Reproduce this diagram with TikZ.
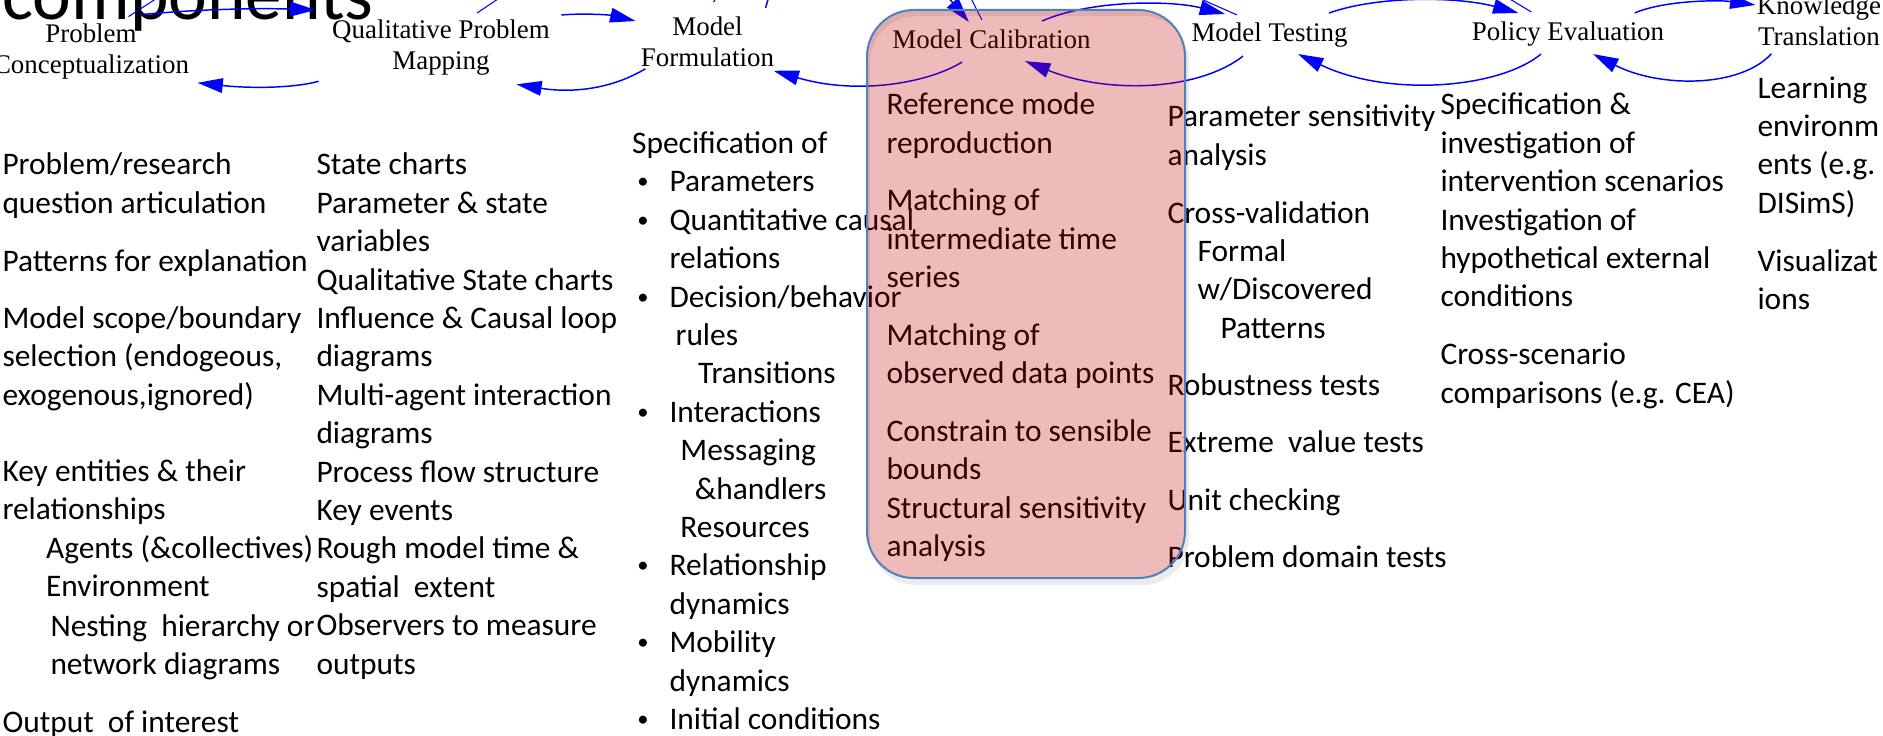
\documentclass[tikz,border=0pt]{standalone}
\usepackage{fontspec}
\setmainfont{Carlito}
\newfontfamily\stageserif{Liberation Serif}
\usetikzlibrary{arrows.meta,calc}

\newcommand{\bodyfont}{\fontsize{23.55pt}{28.8pt}\selectfont}
\newcommand{\stagefont}{\stageserif\fontsize{20.2pt}{23.6pt}\selectfont}
\newcommand{\bul}{\hspace*{3.8pt}\makebox[24.2pt][l]{\raisebox{2.3pt}{\scalebox{0.72}{\textbullet}}}}

\tikzset{every picture/.style={line width=0.75pt}}
\tikzset{
  bodytext/.style={anchor=north west, inner sep=0.75pt, align=left, font=\bodyfont},
  stagelabel/.style={anchor=north, inner sep=0.75pt, align=center, font=\stagefont},
  loopflow/.style={color={rgb, 255:red, 0; green, 0; blue, 255}, draw opacity=1, line width=1.1pt, -{Triangle[length=19pt,width=11pt]}},
  hubline/.style={color={rgb, 255:red, 0; green, 0; blue, 255}, line width=0.8pt},
}

\begin{document}
\begin{tikzpicture}[x=0.75pt,y=0.75pt,yscale=-1,xscale=1]
\useasboundingbox (0,0) rectangle (1883,735);
\clip (0,0) rectangle (1883,735);

%Shadow of the calibration box (only the part outside it)
\fill [color={rgb, 255:red, 0; green, 0; blue, 0}, opacity=0.08, rounded corners=35pt, even odd rule] (870,16) rectangle (1189,585) (867,10) rectangle (1185,578);

% Title Node
\node (title) [anchor=base west, inner sep=0pt, font=\fontsize{55pt}{60pt}\selectfont] at (2,20) {components};

% Stage Nodes
\node (concept) [stagelabel] at (91,18.6) {\strut Problem\\Conceptualization};
\node (mapping) [stagelabel] at (441,15) {\strut Qualitative Problem\\Mapping};
\node (formul) [stagelabel] at (707.5,12) {\strut Model\\Formulation};
\node (calib) [stagelabel] at (991.5,25) {\strut Model Calibration};
\node (testing) [stagelabel] at (1269.5,18) {\strut Model Testing};
\node (policy) [stagelabel] at (1568,17) {\strut Policy Evaluation};
\node (knowledge) [stagelabel] at (1819,-9) {\strut Knowledge\\Translation};

% Text Node
\node (pc1) [bodytext] at (1,146.6) {\strut Problem/research\\question articulation};
% Text Node
\node (pc2) [bodytext] at (1,242.7) {\strut Patterns for explanation};
% Text Node
\node (pc3) [bodytext] at (1,300.1) {\strut Model scope/boundary\\selection (endogeous,\\exogenous,ignored)};
% Text Node
\node (pc4) [bodytext] at (1,452.9) {\strut Key entities \& their\\relationships};
% Text Node
\node (pc5) [bodytext] at (44.6,529.7) {\strut Agents (\&collectives)\\Environment};
% Text Node
\node (pc6) [bodytext] at (49,607.8) {\strut Nesting\ \ hierarchy or\\network diagrams};
% Text Node
\node (pc7) [bodytext] at (1,703.8) {\strut Output\ \ of interest};

% Text Node
\node (qm) [bodytext] at (315,146.6) {\strut State charts\\Parameter \& state\\variables\\Qualitative State charts\\Influence \& Causal loop\\diagrams\\Multi-agent interaction\\diagrams\\Process flow structure\\Key events\\Rough model time \&\\spatial\ \ extent\\Observers to measure\\outputs};

% Text Node
\node (mf) [bodytext] at (630.7,125.1) {\strut Specification of\\\bul Parameters\\\bul Quantitative causal\\\hspace*{28pt}relations\\\bul Decision/behavior\\\hspace*{32.5pt}rules\\\hspace*{49.5pt}Transitions\\\bul Interactions\\\hspace*{36.2pt}Messaging\\\hspace*{47pt}\&handlers\\\hspace*{36.2pt}Resources\\\bul Relationship\\\hspace*{28pt}dynamics\\\bul Mobility\\\hspace*{28pt}dynamics\\\bul Initial conditions};

% Text Node
\node (mc1) [bodytext] at (885,86.6) {\strut Reference mode\\reproduction};
% Text Node
\node (mc2) [bodytext] at (885,182.6) {\strut Matching of\\intermediate time\\series};
% Text Node
\node (mc3) [bodytext] at (885,317.1) {\strut Matching of\\observed data points};
% Text Node
\node (mc4) [bodytext] at (885,413.1) {\strut Constrain to sensible\\bounds\\Structural sensitivity\\analysis};

% Text Node
\node (mt1) [bodytext] at (1166,98.6) {\strut Parameter sensitivity\\analysis};
% Text Node
\node (mt2) [bodytext] at (1166,194.7) {\strut Cross-validation\\\hspace*{22.5pt}Formal\\\hspace*{22.5pt}w/Discovered\\\hspace*{39.75pt}Patterns};
% Text Node
\node (mt3) [bodytext] at (1166,367.6) {\strut Robustness tests};
% Text Node
\node (mt4) [bodytext] at (1166,424.1) {\strut Extreme\ \ value tests};
% Text Node
\node (mt5) [bodytext] at (1166,481.7) {\strut Unit checking};
% Text Node
\node (mt6) [bodytext] at (1166,539.3) {\strut Problem domain tests};

% Text Node
\node (pe1) [bodytext] at (1439,86.6) {\strut Specification \&\\investigation of\\intervention scenarios\\Investigation of\\hypothetical external\\conditions};
% Text Node
\node (pe2) [bodytext] at (1439,336.4) {\strut Cross-scenario\\comparisons (e.g. CEA)};

% Text Node
\node (kt1) [bodytext] at (1756,69.8) {\strut Learning\\environm\\ents (e.g.\\DISimS)};
% Text Node
\node (kt2) [bodytext] at (1756,242.7) {\strut Visualizat\\ions};

% Connection
\draw [loopflow] ($(concept.north east)+(-49,-4)$) .. controls (200,9) and (260,8) .. ($(mapping.north west)+(-15,-5)$);
% Connection
\draw [loopflow] ($(mapping.south west)+(-12,4)$) .. controls (290,89) and (245,88) .. ($(concept.south east)+(7,2)$);
% Connection
\draw [loopflow] ($(mapping.north east)+(10,0)$) .. controls (585,13) and (610,15) .. ($(formul.north west)+(-4,9)$);
% Connection
\draw [loopflow] ($(formul.south west)+(6,0)$) .. controls (610,90) and (570,93) .. ($(mapping.south east)+(-35,7)$);
% Connection
\draw [loopflow] ($(formul.north east)+(-10,-4)$) .. controls (800,-120) and (900,-60) .. ($(calib.north west)+(78,-3)$);
% Connection
\draw [loopflow] ($(calib.south)+(-29.5,2.6)$) .. controls (930,82) and (860,96) .. ($(formul.south east)+(-2,2)$);
% Connection
\draw [loopflow] ($(calib.north)+(50.5,-4)$) .. controls (1090,0) and (1170,0) .. ($(testing.north west)+(35,-4)$);
% Connection
\draw [loopflow] ($(testing.south)+(-26.5,3.6)$) .. controls (1200,90) and (1110,95) .. ($(calib.south)+(33.5,1.6)$);
% Connection
\draw [loopflow] ($(testing.north east)+(-20,-5)$) .. controls (1380,-5) and (1460,-3) .. ($(policy.north west)+(48,-4)$);
% Connection
\draw [loopflow] ($(policy.south)+(-27,2.6)$) .. controls (1500,88) and (1390,98) .. ($(testing.south)+(28.5,1.6)$);
% Connection
\draw [loopflow] ($(policy.north east)+(-31,-4)$) .. controls (1665,0) and (1720,0) .. ($(knowledge.north west)+(0,14)$);
% Connection
\draw [loopflow] ($(knowledge.south west)+(16,6)$) .. controls (1740,88) and (1660,88) .. ($(policy.south)+(25,2.6)$);

% Lines that leave the frame at the top
\draw [hubline] ($(concept.north east)+(-62,-2)$) -- ++(34,-22);
\draw [hubline] ($(mapping.north)+(36,-2)$) -- ++(30,-20);
\draw [hubline] ($(formul.north)+(6,-10)$) -- ++(6,-8);
\draw [hubline] ($(calib.north west)+(91,-5)$) -- ++(-12,-24);
\draw [hubline] ($(testing.north west)+(47,-3)$) -- ++(-45,-20);
\draw [hubline] ($(policy.north west)+(61,-5)$) -- ++(-30,-18);

%Rounded Rect
\draw [draw={rgb, 255:red, 79; green, 129; blue, 189}, line width=1.5pt, fill={rgb, 255:red, 195; green, 0; blue, 0}, fill opacity=0.27, rounded corners=35pt] (867,10) rectangle (1185,578);

\end{tikzpicture}
\end{document}
